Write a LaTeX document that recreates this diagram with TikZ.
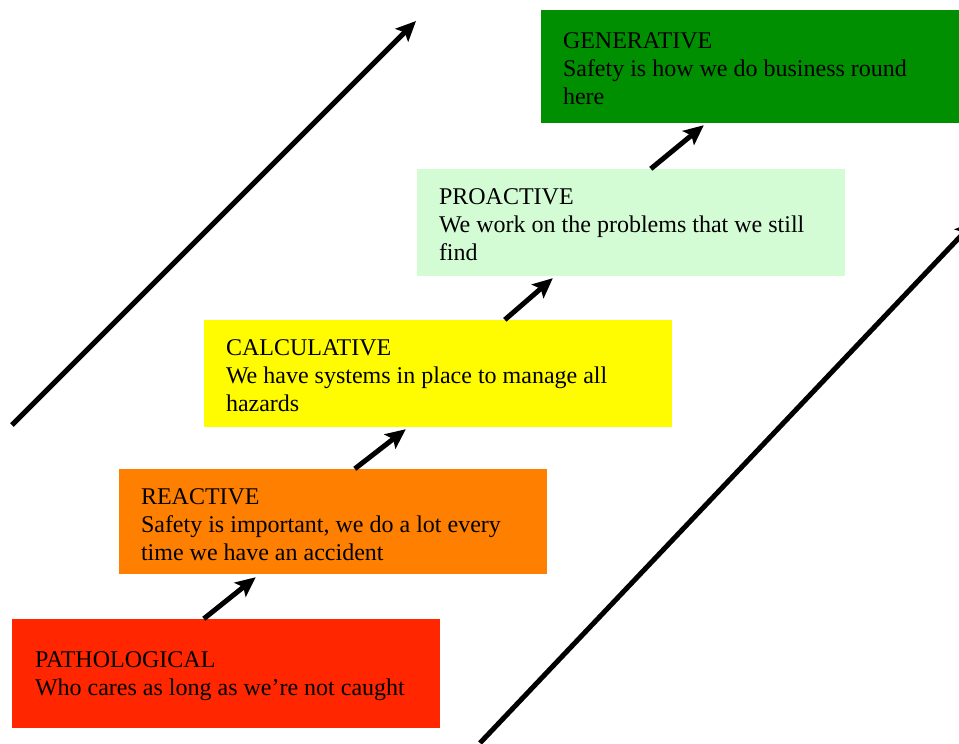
\documentclass[tikz,border=0pt]{standalone}
\usepackage{fontspec}
\setmainfont{Liberation Serif}
\usepackage{tikz}
\usetikzlibrary{arrows.meta, positioning, calc}

\definecolor{pathred}{RGB}{255,38,0}
\definecolor{reacorange}{RGB}{255,128,0}
\definecolor{calcyellow}{RGB}{255,251,0}
\definecolor{proagreen}{RGB}{212,252,212}
\definecolor{gengreen}{RGB}{0,143,0}

\begin{document}
\begin{tikzpicture}[
  x=1pt, y=-1pt,
  level/.style={draw=none, minimum width=428pt, minimum height=107pt, inner sep=0pt},
  label/.style={anchor=west, align=left, inner sep=0pt, font=\fontsize{24}{27.8}\selectfont},
  arrow/.style={-{Stealth[length=20pt, width=18pt, inset=4pt]}, line width=5pt},
]
\useasboundingbox (0,0) rectangle (959,744);
\clip (0,0) rectangle (959,744);

%% Culture levels
\node[level, fill=pathred, minimum height=109pt] (path) at (226,673.5) {};
\node[level, fill=reacorange, minimum height=105pt] (reac) at (333,521.5) {};
\node[level, fill=calcyellow, minimum width=468pt] (calc) at (438,373.5) {};
\node[level, fill=proagreen] (proa) at (631,222.5) {};
\node[level, fill=gengreen, minimum width=418pt, minimum height=113pt] (gen) at (750,66.5) {};

%% Labels
\node[label] (pathtxt) at ([xshift=23pt, yshift=-3pt]path.west) {PATHOLOGICAL\\Who cares as long as we’re not caught};
\node[label] (reactxt) at ([xshift=22pt, yshift=-3pt]reac.west) {REACTIVE\\Safety is important, we do a lot every\\time we have an accident};
\node[label] (calctxt) at ([xshift=22pt, yshift=-2pt]calc.west) {CALCULATIVE\\We have systems in place to manage all\\hazards};
\node[label] (proatxt) at ([xshift=22pt, yshift=-2pt]proa.west) {PROACTIVE\\We work on the problems that we still\\find};
\node[label] (gentxt) at ([xshift=22pt, yshift=-2pt]gen.west) {GENERATIVE\\Safety is how we do business round\\here};

%% Steps between levels
\draw[arrow] ([xshift=192pt]path.north west) -- ([xshift=137pt, yshift=-3pt]reac.south west);
\draw[arrow] ([xshift=236pt]reac.north west) -- ([xshift=202pt, yshift=-2pt]calc.south west);
\draw[arrow] ([xshift=301pt]calc.north west) -- ([xshift=136pt, yshift=-2pt]proa.south west);
\draw[arrow] ([xshift=234pt]proa.north west) -- ([xshift=163pt, yshift=-2pt]gen.south west);

%% Long side arrows
\coordinate (lefttail) at (12,425);
\coordinate (lefthead) at (416,21);
\coordinate (righttail) at (480,743);
\coordinate (righthead) at (975,221);
\draw[arrow] (lefttail) -- (lefthead);
\draw[arrow] (righttail) -- (righthead);

\end{tikzpicture}
\end{document}
